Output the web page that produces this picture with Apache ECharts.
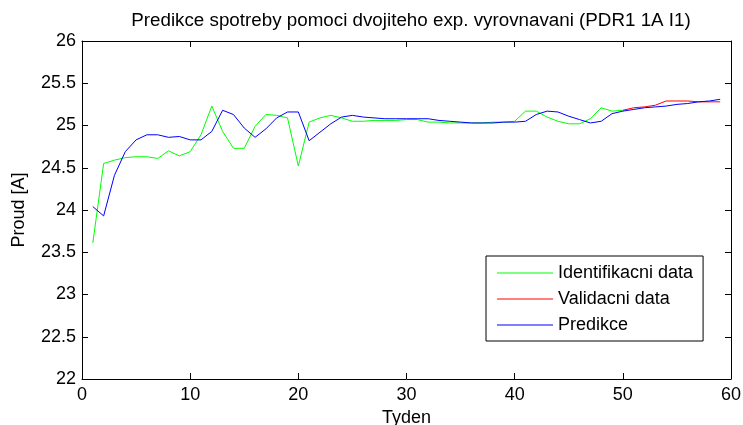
<!DOCTYPE html>
<html>
<head>
<meta charset="utf-8">
<script src="https://cdn.jsdelivr.net/npm/echarts@6/dist/echarts.min.js"></script>
<style>
  html, body { margin: 0; padding: 0; background: #fff; }
  #chart { width: 743px; height: 425px; }
</style>
</head>
<body>
<div id="chart"></div>
<script>
// Weekly current readings [A]
const weeks = [];
for (let w = 1; w <= 59; w++) weeks.push(w);

// Identification data, weeks 1..50
const identData = [
  23.61, 24.55, 24.59, 24.62, 24.63, 24.63, 24.61, 24.70, 24.64, 24.69,
  24.89, 25.23, 24.93, 24.73, 24.73, 24.99, 25.13, 25.12, 25.09, 24.52,
  25.04, 25.09, 25.12, 25.09, 25.05, 25.05, 25.06, 25.06, 25.06, 25.07,
  25.07, 25.04, 25.04, 25.03, 25.03, 25.03, 25.03, 25.04, 25.04, 25.05,
  25.17, 25.17, 25.10, 25.05, 25.02, 25.02, 25.08, 25.21, 25.17, 25.18
];
// Validation data, weeks 50..59
const validWeeks = [50, 51, 52, 53, 54, 55, 56, 57, 58, 59];
const validData = [25.18, 25.21, 25.22, 25.24, 25.29, 25.29, 25.29, 25.28, 25.28, 25.28];
// Double exponential smoothing prediction, weeks 1..59
const predData = [
  24.04, 23.93, 24.41, 24.69, 24.83, 24.89, 24.89, 24.86, 24.87, 24.83,
  24.83, 24.93, 25.18, 25.13, 24.97, 24.86, 24.96, 25.09, 25.16, 25.16,
  24.82, 24.92, 25.02, 25.10, 25.12, 25.10, 25.09, 25.08, 25.08, 25.08,
  25.08, 25.08, 25.06, 25.05, 25.04, 25.03, 25.03, 25.03, 25.04, 25.04,
  25.05, 25.13, 25.17, 25.16, 25.11, 25.07, 25.03, 25.05, 25.14, 25.17,
  25.19, 25.21, 25.22, 25.23, 25.25, 25.26, 25.28, 25.29, 25.31
];

const xTicks = [0, 10, 20, 30, 40, 50, 60];
const yTicks = [22, 22.5, 23, 23.5, 24, 24.5, 25, 25.5, 26];

const pairs = (xs, ys) => ys.map((v, i) => [xs[i], v]);
const font = 'Liberation Sans, Arial, sans-serif';
const fs = 18;

const boxAxisX = (pos, showLabels) => ({
  type: 'value', position: pos, min: xTicks[0], max: xTicks[xTicks.length - 1], interval: 10,
  axisLine: { show: true, onZero: false, lineStyle: { color: '#000', width: 1 } },
  axisTick: { show: true, inside: true, length: 6, lineStyle: { color: '#000' } },
  axisLabel: { show: showLabels, color: '#000', fontSize: fs, fontFamily: font, margin: 7 },
  splitLine: { show: false }
});
const boxAxisY = (pos, showLabels) => ({
  type: 'value', position: pos, min: yTicks[0], max: yTicks[yTicks.length - 1], interval: 0.5,
  axisLine: { show: true, onZero: false, lineStyle: { color: '#000', width: 1 } },
  axisTick: { show: true, inside: true, length: 6, lineStyle: { color: '#000' } },
  axisLabel: { show: showLabels, color: '#000', fontSize: fs, fontFamily: font, margin: 6 },
  splitLine: { show: false }
});

const xMain = Object.assign(boxAxisX('bottom', true), {
  name: 'Tyden', nameLocation: 'middle', nameGap: 29,
  nameTextStyle: { color: '#000', fontSize: fs, fontFamily: font }
});
const yMain = Object.assign(boxAxisY('left', true), {
  name: 'Proud [A]', nameLocation: 'middle', nameGap: 54,
  nameTextStyle: { color: '#000', fontSize: fs, fontFamily: font }
});

const chart = echarts.init(document.getElementById('chart'), null, { renderer: 'canvas' });
chart.setOption({
  animation: false,
  backgroundColor: '#fff',
  title: {
    text: 'Predikce spotreby pomoci dvojiteho exp. vyrovnavani (PDR1 1A I1)',
    left: 406, top: 6, textAlign: 'center',
    textStyle: { color: '#000', fontSize: 18.8, fontWeight: 'normal', fontFamily: font }
  },
  grid: { left: 82, right: 12, top: 41, bottom: 46, containLabel: false, outerBoundsMode: 'none' },
  xAxis: [xMain, boxAxisX('top', false)],
  yAxis: [yMain, boxAxisY('right', false)],
  legend: {
    left: 486, top: 256, orient: 'vertical',
    backgroundColor: '#fff', borderColor: '#000', borderWidth: 1,
    padding: [8, 10, 7, 11], itemGap: 8, itemWidth: 56, itemHeight: 18,
    textStyle: { color: '#000', fontSize: fs, fontFamily: font },
    icon: 'path://M0,5 L56,5 L56,6 L0,6 Z',
    data: ['Identifikacni data', 'Validacni data', 'Predikce']
  },
  series: [
    {
      name: 'Identifikacni data', type: 'line', data: pairs(weeks, identData),
      showSymbol: false, color: '#00ff00', lineStyle: { width: 1, color: '#00ff00' }
    },
    {
      name: 'Validacni data', type: 'line', data: pairs(validWeeks, validData),
      showSymbol: false, color: '#ff0000', lineStyle: { width: 1, color: '#ff0000' }
    },
    {
      name: 'Predikce', type: 'line', data: pairs(weeks, predData),
      showSymbol: false, color: '#0000ff', lineStyle: { width: 1, color: '#0000ff' }
    }
  ]
});
</script>
</body>
</html>
